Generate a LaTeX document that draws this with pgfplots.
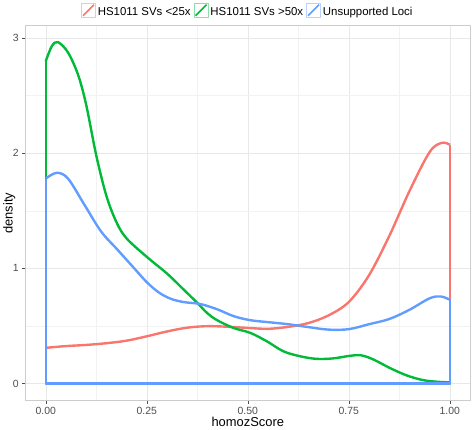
\documentclass[border=0pt]{standalone}
\usepackage{pgfplots}
\pgfplotsset{compat=1.18}
\usepackage{fontspec}
\setmainfont{Liberation Sans}

\definecolor{cred}{HTML}{F8766D}
\definecolor{cgreen}{HTML}{00BA38}
\definecolor{cblue}{HTML}{619CFF}
\definecolor{tickgrey}{HTML}{4D4D4D}

\begin{document}
\begin{tikzpicture}
\begin{axis}[
  scale only axis,
  width=445.7bp, height=376bp,
  xmin=-0.05, xmax=1.05,
  ymin=-0.148, ymax=3.108,
  xtick={0,0.25,0.5,0.75,1},
  ytick={0,1,2,3},
  minor xtick={0.125,0.375,0.625,0.875},
  minor ytick={0.5,1.5,2.5},
  xticklabel style={/pgf/number format/.cd,fixed,fixed zerofill,precision=2},
  /pgf/number format/assume math mode=true,
  ticklabel style={font=\fontsize{10.5}{12}\selectfont, text=tickgrey},
  tick align=outside,
  major tick length=3.5bp,
  minor tick length=0bp,
  tick style={draw=tickgrey, line width=0.5bp},
  xtick pos=bottom, ytick pos=left,
  grid=both,
  major grid style={draw=black!9, line width=0.5bp},
  minor grid style={draw=black!5, line width=0.4bp},
  axis line style={draw=black!20, line width=0.8bp},
  xlabel={homozScore},
  ylabel={density},
  label style={font=\fontsize{13}{15}\selectfont},
  xlabel style={at={(rel axis cs:0.5,-0.0567)}, anchor=center},
  ylabel style={at={(rel axis cs:-0.0366,0.5)}, anchor=center},
  legend columns=3,
  legend style={at={(rel axis cs:0.5,1.017)}, anchor=south, draw=none, fill=none,
    font=\fontsize{11.5}{13}\selectfont, inner sep=0pt,
    /tikz/every even column/.append style={column sep=1bp}},
  legend image code/.code={
    \draw[#1, line width=0.8bp, draw opacity=0.45] (0bp,-5bp) rectangle (14bp,9bp);
    \draw[#1, line width=1.6bp] (1.5bp,-3.5bp) -- (12.5bp,7.5bp);
  },
  clip=false,
  line join=round,
]
% HS1011 SVs <25x: sides and baseline, then curve
\addplot[cred, line width=2.4bp, forget plot] coordinates {
(0,0.31) (0,0) (1,0) (1,2.074)
};
\addplot[cred, line width=2.4bp, smooth, tension=0.55] coordinates {
(0,0.31) (0.05,0.325) (0.1,0.335) (0.15,0.35) (0.2,0.372) (0.25,0.41)
(0.3,0.452) (0.35,0.485) (0.4,0.498) (0.45,0.493) (0.5,0.483) (0.55,0.475)
(0.6,0.492) (0.65,0.525) (0.7,0.592) (0.75,0.708) (0.8,0.94) (0.85,1.28)
(0.9,1.67) (0.95,2.01) (0.98,2.09) (1.0,2.074)
};
\addlegendentry{HS1011 SVs <25x}
% HS1011 SVs >50x
\addplot[cgreen, line width=2.4bp, forget plot] coordinates {
(0,2.80) (0,0) (1,0) (1,0.01)
};
\addplot[cgreen, line width=2.4bp, smooth, tension=0.55] coordinates {
(0,2.80) (0.015,2.93) (0.03,2.965) (0.055,2.875) (0.08,2.68) (0.1,2.42)
(0.125,1.98) (0.15,1.63) (0.175,1.40) (0.2,1.26) (0.25,1.10) (0.3,0.955)
(0.34,0.82) (0.375,0.70) (0.4,0.61) (0.424,0.55) (0.465,0.482) (0.506,0.44)
(0.547,0.367) (0.588,0.28) (0.629,0.237) (0.67,0.214) (0.711,0.218) (0.752,0.24)
(0.78,0.245) (0.81,0.21) (0.851,0.136) (0.892,0.072) (0.933,0.03) (0.97,0.015)
(1.0,0.01)
};
\addlegendentry{HS1011 SVs >50x}
% Unsupported Loci
\addplot[cblue, line width=2.4bp, forget plot] coordinates {
(0,1.78) (0,0) (1,0) (1,0.727)
};
\addplot[cblue, line width=2.4bp, smooth, tension=0.55] coordinates {
(0,1.78) (0.027,1.83) (0.055,1.78) (0.096,1.55) (0.137,1.32) (0.178,1.16)
(0.219,1.00) (0.25,0.88) (0.28,0.79) (0.31,0.735) (0.342,0.707) (0.383,0.69)
(0.424,0.645) (0.465,0.585) (0.506,0.55) (0.55,0.533) (0.6,0.515) (0.65,0.49)
(0.7,0.468) (0.75,0.472) (0.8,0.515) (0.85,0.56) (0.9,0.64) (0.95,0.74)
(0.978,0.756) (1.0,0.727)
};
\addlegendentry{Unsupported Loci}
\path (rel axis cs:-0.0545,-0.0753) rectangle (rel axis cs:1.0045,1.0684);
\end{axis}
\end{tikzpicture}
\end{document}
